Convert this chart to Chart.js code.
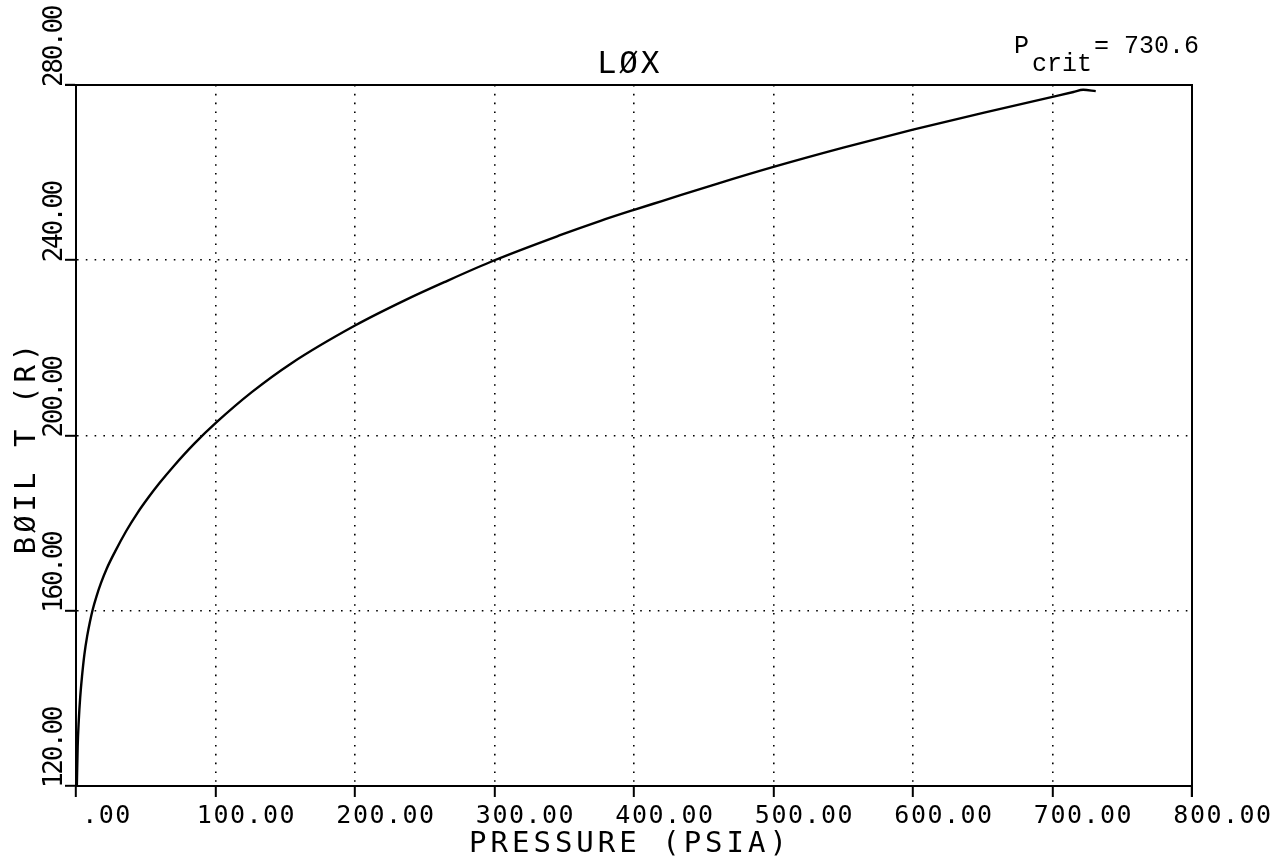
<!DOCTYPE html>
<html>
<head>
<meta charset="utf-8">
<style>
  html, body { margin: 0; padding: 0; background: #fff; }
</style>
<script src="https://cdn.jsdelivr.net/npm/chart.js@4.4.0/dist/chart.umd.min.js"></script>
</head>
<body>
<canvas id="chart" width="1286" height="863"></canvas>
<script>
// ===== LOX boiling temperature vs pressure =====

const pressure = [0.6, 1.2, 2, 3, 4.3, 6, 8, 10, 12, 14.7, 18, 22, 28, 36, 44, 52, 60, 70,
  85, 101, 126, 154, 200, 236, 264, 300, 346, 376, 400, 420, 460, 500, 550, 600, 651,
  700, 715, 722, 731];
const boilTemp = [120, 129, 135, 140.2, 145, 150, 154.2, 157.5, 160.3, 163.3, 166.4, 169.6,
  173.5, 178.2, 182.3, 185.9, 189.2, 193, 198.2, 203.1, 209.9, 216.4, 225.1, 230.9, 235,
  240, 245.6, 249, 251.5, 253.5, 257.5, 261.3, 265.7, 269.8, 273.7, 277.3, 278.4, 278.9,
  278.6];

const xTicks = [0, 100, 200, 300, 400, 500, 600, 700, 800];
const xTickLabels = ['.00', '100.00', '200.00', '300.00', '400.00', '500.00', '600.00', '700.00', '800.00'];
const yTicks = [120, 160, 200, 240, 280];
const yTickLabels = ['120.00', '160.00', '200.00', '240.00', '280.00'];

const titleText = 'LØX';
const xTitle = 'PRESSURE (PSIA)';
const yTitle = 'BØIL T (R)';
const critLabel = { main: 'P', sub: 'crit', value: '= 730.6' };

const MONO = '"DejaVu Sans Mono", monospace';

// text, box and white page drawn around the library's scales
const plotDecor = {
  id: 'plotDecor',
  beforeDraw(chart) {
    const ctx = chart.ctx;
    ctx.save();
    ctx.fillStyle = '#fff';
    ctx.fillRect(0, 0, chart.width, chart.height);
    ctx.restore();
  },
  afterDraw(chart) {
    const ctx = chart.ctx;
    const a = chart.chartArea;
    const xs = chart.scales.x;
    const ys = chart.scales.y;
    ctx.save();
    ctx.fillStyle = '#000';
    ctx.strokeStyle = '#000';

    // top + right border of the box
    ctx.lineWidth = 2;
    ctx.beginPath();
    ctx.moveTo(a.left - 11, a.top);
    ctx.lineTo(a.right, a.top);
    ctx.lineTo(a.right, a.bottom + 11);
    ctx.stroke();

    // x tick labels
    ctx.font = '25px ' + MONO;
    ctx.letterSpacing = '1.5px';
    ctx.textAlign = 'center';
    ctx.textBaseline = 'alphabetic';
    xTicks.forEach((v, i) => {
      ctx.fillText(xTickLabels[i], xs.getPixelForValue(v) + 31, 823);
    });

    // y tick labels, rotated, starting at the tick and running up
    ctx.font = '26px ' + MONO;
    ctx.letterSpacing = '-2.3px';
    ctx.textAlign = 'left';
    yTicks.forEach((v, i) => {
      ctx.save();
      ctx.translate(62, ys.getPixelForValue(v) + 2);
      ctx.rotate(-Math.PI / 2);
      ctx.fillText(yTickLabels[i], 0, 0);
      ctx.restore();
    });

    // axis titles
    ctx.font = '29px ' + MONO;
    ctx.letterSpacing = '4px';
    ctx.textAlign = 'center';
    ctx.fillText(xTitle, 630, 852);
    ctx.save();
    ctx.translate(35, 447);
    ctx.rotate(-Math.PI / 2);
    ctx.fillText(yTitle, 0, 0);
    ctx.restore();

    // chart title
    ctx.font = '31px ' + MONO;
    ctx.letterSpacing = '3px';
    ctx.fillText(titleText, 630, 73);

    // P_crit note
    ctx.letterSpacing = '0px';
    ctx.font = '25px "Liberation Mono", monospace';
    ctx.textAlign = 'left';
    ctx.fillText(critLabel.main, 1014, 53);
    ctx.fillText(critLabel.sub, 1032, 71);
    ctx.fillText(critLabel.value, 1094, 53);

    ctx.restore();
  }
};

const gridStyle = {
  color: '#000',
  lineWidth: 1.6,
  drawTicks: true,
  tickLength: 11,
  tickColor: '#000',
  tickWidth: 2,
  tickBorderDash: [],
};

// in Chart.js v4 the grid line dash lives on border.dash
const borderStyle = { display: true, color: '#000', width: 2, dash: [1.6, 7.2] };

new Chart(document.getElementById('chart'), {
  type: 'scatter',
  data: {
    datasets: [{
      data: pressure.map((p, i) => ({ x: p, y: boilTemp[i] })),
      showLine: true,
      borderColor: '#000',
      borderWidth: 2.4,
      pointRadius: 0,
      cubicInterpolationMode: 'monotone',
      fill: false,
    }],
  },
  options: {
    responsive: false,
    animation: false,
    devicePixelRatio: 1,
    layout: { padding: { left: 65, right: 94, top: 85, bottom: 66 } },
    plugins: {
      legend: { display: false },
      tooltip: { enabled: false },
    },
    scales: {
      x: {
        type: 'linear',
        min: 0,
        max: 800,
        afterBuildTicks: s => { s.ticks = xTicks.map(v => ({ value: v })); },
        ticks: { display: false },
        grid: gridStyle,
        border: borderStyle,
      },
      y: {
        type: 'linear',
        min: 120,
        max: 280,
        afterBuildTicks: s => { s.ticks = yTicks.map(v => ({ value: v })); },
        ticks: { display: false },
        grid: gridStyle,
        border: borderStyle,
      },
    },
  },
  plugins: [plotDecor],
});
</script>
</body>
</html>
